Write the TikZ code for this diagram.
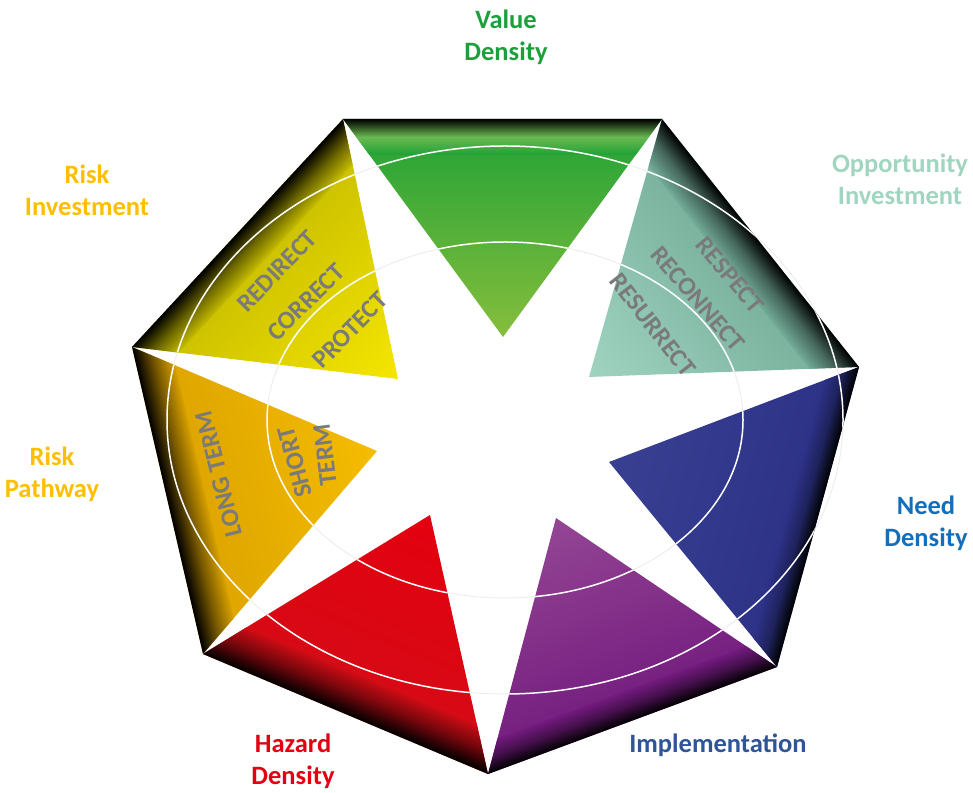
\documentclass[tikz,border=0pt]{standalone}
\usepackage{fontspec}
\setmainfont{Carlito}

% Farben der Segmente
\definecolor{gruen}{RGB}{31,161,54}
\definecolor{gruenhell}{RGB}{134,190,60}
\definecolor{gruenglanz}{RGB}{105,185,80}
\definecolor{tuerkis}{RGB}{115,172,152}
\definecolor{tuerkishell}{RGB}{160,212,193}
\definecolor{blau}{RGB}{44,49,133}
\definecolor{blauhell}{RGB}{57,64,146}
\definecolor{lila}{RGB}{114,26,126}
\definecolor{lilahell}{RGB}{148,70,148}
\definecolor{rot}{RGB}{212,12,22}
\definecolor{rothell}{RGB}{228,0,15}
\definecolor{orangeton}{RGB}{218,162,0}
\definecolor{orangehell}{RGB}{245,188,0}
\definecolor{gelb}{RGB}{198,188,0}
\definecolor{gelbhell}{RGB}{245,230,0}
% Farben der Beschriftungen
\definecolor{schrift}{RGB}{122,122,122}
\definecolor{txtgruen}{RGB}{28,160,60}
\definecolor{txtgold}{RGB}{255,190,0}
\definecolor{txttuerkis}{RGB}{160,213,192}
\definecolor{txtblau}{RGB}{20,110,185}
\definecolor{txtdunkelblau}{RGB}{47,85,151}
\definecolor{txtrot}{RGB}{228,0,18}

\begin{document}
\begin{tikzpicture}[x=1pt, y=1pt,
	titel/.style={font=\bfseries\fontsize{26.5}{32}\selectfont, align=center, inner sep=0pt},
	wort/.style={font=\bfseries\fontsize{25.5}{28}\selectfont, text=schrift, inner sep=0pt}]
	\useasboundingbox (0,0) rectangle (973,792);

	% Eckpunkte des Siebenecks
	\coordinate (v1) at (343,673);
	\coordinate (v2) at (662,673);
	\coordinate (v3) at (859,425);
	\coordinate (v4) at (777,125);
	\coordinate (v5) at (488,18);
	\coordinate (v6) at (203,138);
	\coordinate (v7) at (132,445);
	% Spitzen des Sterns
	\coordinate (p1) at (503,455);
	\coordinate (p2) at (589,415);
	\coordinate (p3) at (609,330);
	\coordinate (p4) at (556,274);
	\coordinate (p5) at (430,277);
	\coordinate (p6) at (377,341);
	\coordinate (p7) at (398,413);

	% Ellipsen blass
	\draw[black!7, line width=1pt] (505,372) ellipse [x radius=338, y radius=274];
	\draw[black!7, line width=1pt] (505,372) ellipse [x radius=238, y radius=178];

	% Segmente mit dunklem Rand
	\foreach \s/\e/\ip/\ca/\cb/\cm/\band in {
		v2/v1/p1/gruen/gruenhell/gruenglanz/36,
		v3/v2/p2/tuerkis/tuerkishell/tuerkis!60!black/40,
		v4/v3/p3/blau/blauhell/blau!70!black/30,
		v5/v4/p4/lila/lilahell/lila!60!black/30,
		v6/v5/p5/rot/rothell/rot!55!black/42,
		v7/v6/p6/orangeton/orangehell/orangeton!55!black/38,
		v1/v7/p7/gelb/gelbhell/gelb!55!black/38}
	{
		\path (\s); \pgfgetlastxy{\sx}{\sy}
		\path (\e); \pgfgetlastxy{\ex}{\ey}
		\path (\ip); \pgfgetlastxy{\px}{\py}
		\pgfmathsetmacro\winkel{atan2(\ey-\sy,\ex-\sx)}
		\pgfmathsetmacro\laenge{veclen(\ex-\sx,\ey-\sy)}
		\pgfmathsetmacro\hoehe{((\ex-\sx)/100*(\py-\sy)/100-(\ey-\sy)/100*(\px-\sx)/100)/(\laenge/100)*100}
		\begin{scope}
			\clip (\s) -- (\e) -- (\ip) -- cycle;
			\begin{scope}[transform canvas={shift={(\s)}, rotate=\winkel}]
				\shade[bottom color=\ca, top color=\cb] (-30,0) rectangle (\laenge+30,\hoehe);
				\shade[bottom color=black, top color=\ca, middle color=\cm] (-30,0) rectangle (\laenge+30,\band);
			\end{scope}
		\end{scope}
	}

	% Ellipsen weiss auf den Segmenten
	\begin{scope}
		\clip (v2) -- (v1) -- (p1) -- cycle (v3) -- (v2) -- (p2) -- cycle
			(v4) -- (v3) -- (p3) -- cycle (v5) -- (v4) -- (p4) -- cycle
			(v6) -- (v5) -- (p5) -- cycle (v7) -- (v6) -- (p6) -- cycle
			(v1) -- (v7) -- (p7) -- cycle;
		\draw[white, line width=1.5pt] (505,372) ellipse [x radius=338, y radius=274];
		\draw[white, line width=1.5pt] (505,372) ellipse [x radius=238, y radius=178];
	\end{scope}

	% Woerter in den Segmenten
	\node[wort, rotate=45.5] (redirect) at (277,521) {REDIRECT};
	\node[wort, rotate=44.5] (correct) at (306,490) {CORRECT};
	\node[wort, rotate=45.5] (protect) at (350,462) {PROTECT};
	\node[wort, rotate=-50] (respect) at (730,517) {RESPECT};
	\node[wort, rotate=-49] (reconnect) at (698,493) {RECONNECT};
	\node[wort, rotate=-52] (resurrect) at (653,467) {RESURRECT};
	\node[wort, rotate=104] (longterm) at (219,318) {LONG TERM};
	\node[wort, rotate=105] (short) at (295,330) {SHORT};
	\node[wort, rotate=97] (term) at (325,337) {TERM};

	% Beschriftungen aussen
	\node[titel, text=txtgruen] (wert) at (506,755) {Value\\Density};
	\node[titel, text=txtgold] (risikoinv) at (87,602) {Risk\\Investment};
	\node[titel, text=txttuerkis] (chance) at (900,613) {Opportunity\\Investment};
	\node[titel, text=txtgold] (pfad) at (52,318) {Risk\\Pathway};
	\node[titel, text=txtblau] (bedarf) at (926,269) {Need\\Density};
	\node[titel, text=txtdunkelblau] (umsetzung) at (718,47) {Implementation};
	\node[titel, text=txtrot] (gefahr) at (293,31) {Hazard\\Density};
\end{tikzpicture}
\end{document}
